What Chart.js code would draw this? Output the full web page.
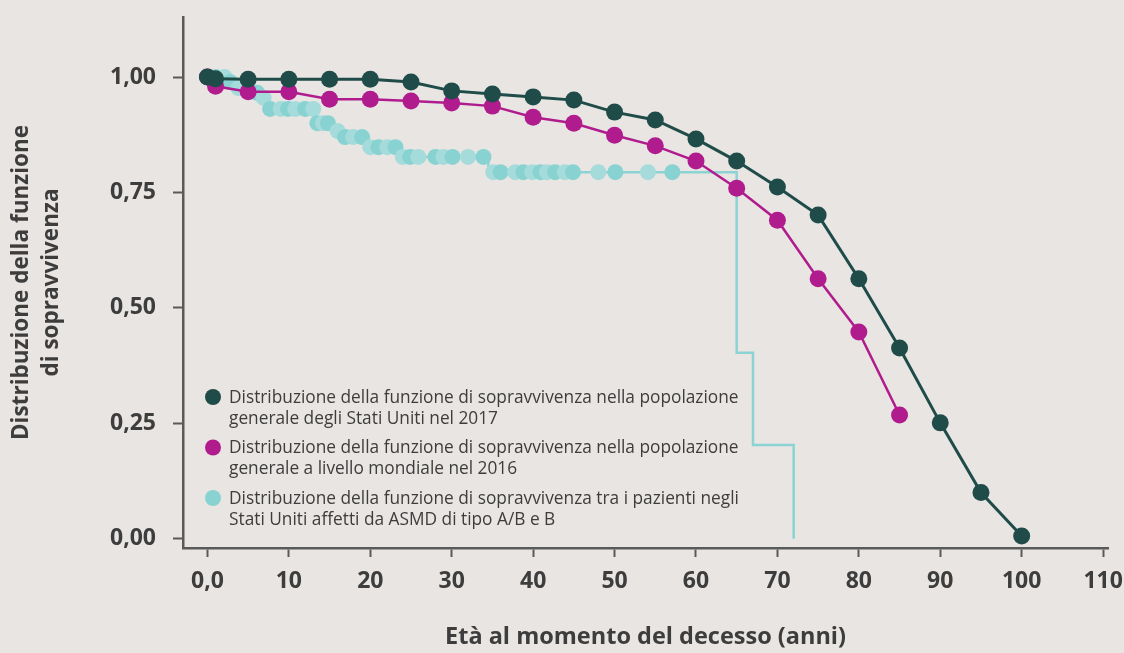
<!DOCTYPE html>
<html>
<head>
<meta charset="utf-8">
<script src="https://cdn.jsdelivr.net/npm/chart.js@4"></script>
<style>
  body { margin: 0; background: #e8e5e2; }
  #wrap { width: 1124px; height: 653px; position: relative; }
</style>
</head>
<body>
<div id="wrap"><canvas id="myChart"></canvas></div>
<script>
// popolazione generale USA 2017
var usAges = [0, 1, 5, 10, 15, 20, 25, 30, 35, 40, 45, 50, 55, 60, 65, 70, 75, 80, 85, 90, 95, 100];
var usValues = [1.000, 0.996, 0.995, 0.995, 0.995, 0.995, 0.989, 0.970, 0.963, 0.957, 0.950, 0.924, 0.907, 0.866, 0.818, 0.762, 0.701, 0.563, 0.413, 0.251, 0.100, 0.006];

// popolazione mondiale 2016
var worldAges = [0, 1, 5, 10, 15, 20, 25, 30, 35, 40, 45, 50, 55, 60, 65, 70, 75, 80, 85];
var worldValues = [1.000, 0.980, 0.968, 0.968, 0.952, 0.952, 0.948, 0.944, 0.937, 0.913, 0.900, 0.874, 0.851, 0.818, 0.759, 0.690, 0.563, 0.448, 0.268];

// pazienti ASMD: osservazioni (punti)
var asmdAges = [1.0, 2.1, 2.8, 3.8, 6.1, 6.9, 7.7, 9.0, 9.9, 10.8, 12.0, 13.0, 13.5, 14.2, 14.8, 16.0, 16.9, 17.9, 19.0,
  20.0, 21.0, 22.1, 23.1, 24.0, 24.9, 25.9, 28.0, 29.0, 30.1, 32.0, 33.9,
  35.1, 36.0, 37.8, 38.8, 39.9, 40.9, 41.7, 42.7, 43.9, 44.9, 48.0, 50.1, 54.1, 57.1];
var asmdValues = [1.0, 1.0, 0.989, 0.976, 0.966, 0.955, 0.931, 0.931, 0.931, 0.931, 0.931, 0.931, 0.900, 0.900, 0.900, 0.883, 0.870, 0.870, 0.870,
  0.848, 0.848, 0.848, 0.848, 0.827, 0.827, 0.827, 0.827, 0.827, 0.827, 0.827, 0.827,
  0.794, 0.794, 0.794, 0.794, 0.794, 0.794, 0.794, 0.794, 0.794, 0.794, 0.794, 0.794, 0.794, 0.794];

// curva a gradini (Kaplan-Meier)
var kmAges = [0, 2.5, 3.3, 5.0, 6.5, 7.3, 13.2, 15.5, 16.4, 19.5, 23.5, 34.5, 65, 67, 72];
var kmValues = [1.0, 0.989, 0.976, 0.966, 0.955, 0.931, 0.900, 0.883, 0.870, 0.848, 0.827, 0.794, 0.403, 0.203, 0.0];

var xTicks = [0, 10, 20, 30, 40, 50, 60, 70, 80, 90, 100, 110];
var yTicks = [0, 0.25, 0.5, 0.75, 1.0];

var legendLabels = [
  ['Distribuzione della funzione di sopravvivenza nella popolazione', 'generale degli Stati Uniti nel 2017'],
  ['Distribuzione della funzione di sopravvivenza nella popolazione', 'generale a livello mondiale nel 2016'],
  ['Distribuzione della funzione di sopravvivenza tra i pazienti negli', 'Stati Uniti affetti da ASMD di tipo A/B e B']
];

var GREEN = '#1f4b48';
var MAGENTA = '#b01c8d';
var CYAN = '#88d3d2';
var CYAN_LIGHT = '#a5dcdb';
var TEXT = '#3d3d3d';
var AXIS = '#5a5a5a';
var FONT = "'Open Sans'";

function toXY(xs, ys) {
  return xs.map(function (x, i) { return { x: x, y: ys[i] }; });
}

// legenda disegnata dentro l'area del grafico
var insideLegend = {
  id: 'insideLegend',
  afterDatasetsDraw: function (chart) {
    var ctx = chart.ctx;
    var colors = [GREEN, MAGENTA, CYAN];
    var top = 398;
    ctx.save();
    ctx.font = '17.3px ' + FONT;
    ctx.textBaseline = 'middle';
    legendLabels.forEach(function (lines, i) {
      var y = top + i * 50.5;
      ctx.beginPath();
      ctx.arc(213, y - 1, 8, 0, Math.PI * 2);
      ctx.fillStyle = colors[i];
      ctx.fill();
      ctx.fillStyle = TEXT;
      lines.forEach(function (t, j) {
        ctx.fillText(t, 229, y + j * 21);
      });
    });
    ctx.restore();
  }
};

var ctx = document.getElementById('myChart').getContext('2d');
new Chart(ctx, {
  type: 'scatter',
  data: {
    datasets: [
      {
        label: 'USA 2017',
        data: toXY(usAges, usValues),
        showLine: true,
        borderColor: GREEN,
        backgroundColor: GREEN,
        borderWidth: 3,
        pointRadius: 8.5,
        pointHoverRadius: 8.5,
        pointBorderWidth: 0
      },
      {
        label: 'Mondo 2016',
        data: toXY(worldAges, worldValues),
        showLine: true,
        borderColor: MAGENTA,
        backgroundColor: MAGENTA,
        borderWidth: 2.5,
        pointRadius: 8.5,
        pointHoverRadius: 8.5,
        pointBorderWidth: 0
      },
      {
        label: 'ASMD punti',
        data: toXY(asmdAges, asmdValues),
        showLine: false,
        pointRadius: 8,
        pointHoverRadius: 8,
        pointBorderWidth: 0,
        pointBackgroundColor: function (c) { return c.dataIndex % 2 ? CYAN_LIGHT : CYAN; }
      },
      {
        label: 'ASMD KM',
        data: toXY(kmAges, kmValues),
        showLine: true,
        stepped: 'before',
        borderColor: '#8cd4d3',
        borderWidth: 2.5,
        pointRadius: 0,
        pointHoverRadius: 0
      }
    ]
  },
  options: {
    responsive: true,
    maintainAspectRatio: false,
    animation: false,
    layout: { padding: { top: 17, right: 16, left: 0, bottom: 0 } },
    plugins: {
      legend: { display: false },
      tooltip: { enabled: false }
    },
    scales: {
      x: {
        type: 'linear',
        min: -3,
        max: 110.6,
        afterBuildTicks: function (s) { s.ticks = xTicks.map(function (v) { return { value: v }; }); },
        afterFit: function (s) { s.height = 105; s.paddingLeft = 0; s.paddingRight = 0; },
        grid: { drawOnChartArea: false, drawTicks: true, tickLength: 9, color: AXIS, tickWidth: 2 },
        border: { display: true, color: AXIS, width: 2.5 },
        ticks: {
          color: TEXT,
          padding: 11,
          font: { family: FONT, weight: 'bold', size: 23 },
          callback: function (v) { return v === 0 ? '0,0' : String(v); }
        },
        title: {
          display: true,
          text: 'Età al momento del decesso (anni)',
          color: TEXT,
          font: { family: FONT, weight: 'bold', size: 23.5 },
          padding: { bottom: 2 }
        }
      },
      y: {
        min: -0.02,
        max: 1.13,
        afterBuildTicks: function (s) { s.ticks = yTicks.map(function (v) { return { value: v }; }); },
        afterFit: function (s) { s.width = 183; s.paddingTop = 0; s.paddingBottom = 0; },
        grid: { drawOnChartArea: false, drawTicks: true, tickLength: 10, color: AXIS, tickWidth: 2 },
        border: { display: true, color: AXIS, width: 2.5 },
        ticks: {
          color: TEXT,
          padding: 17,
          font: { family: FONT, weight: 'bold', size: 23 },
          callback: function (v) { return v.toFixed(2).replace('.', ','); }
        },
        title: {
          display: true,
          text: ['Distribuzione della funzione', 'di sopravvivenza'],
          color: TEXT,
          font: { family: FONT, weight: 'bold', size: 22.5, lineHeight: 1.33 },
          padding: { top: 7 }
        }
      }
    }
  },
  plugins: [insideLegend]
});
</script>
</body>
</html>
